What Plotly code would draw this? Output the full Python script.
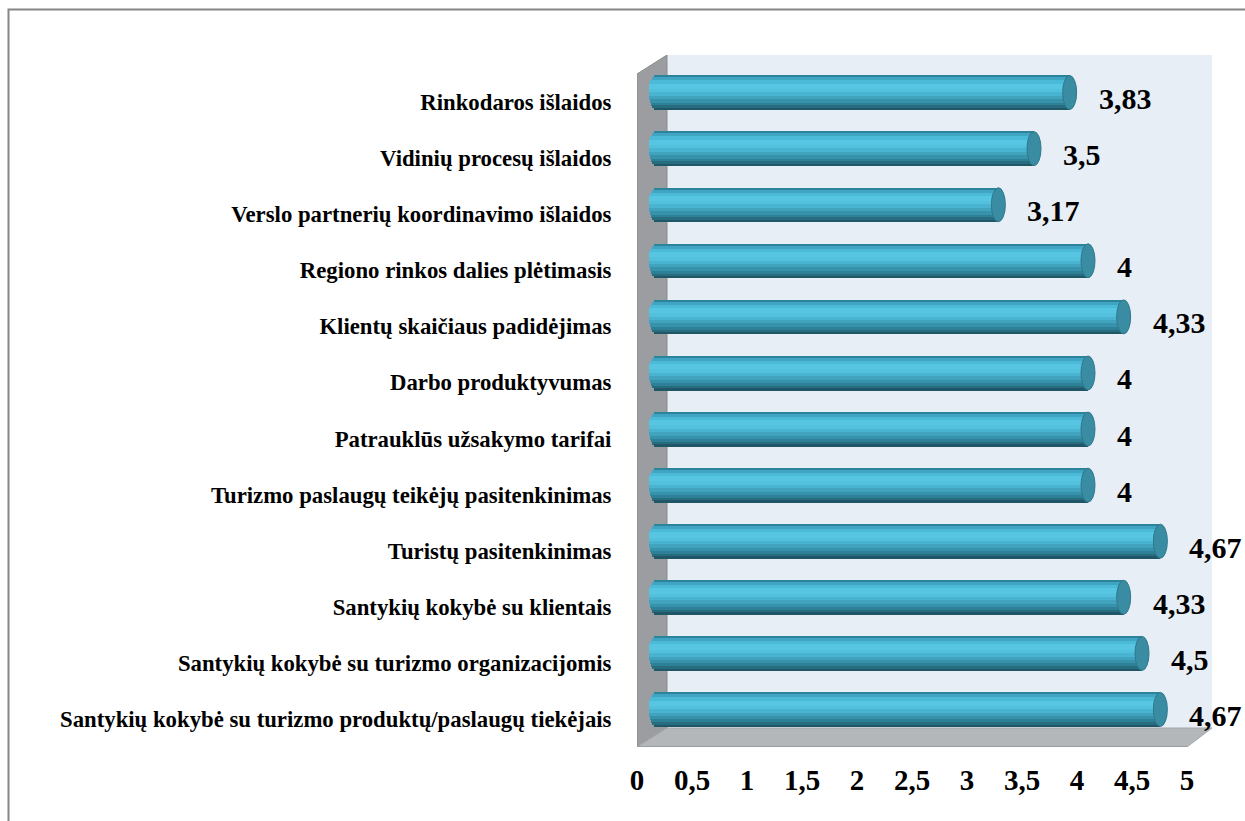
import numpy as np
import plotly.graph_objects as go

# ---- data -------------------------------------------------------------
categories = [
    "Santykių kokybė su turizmo produktų/paslaugų tiekėjais",
    "Santykių kokybė su turizmo organizacijomis",
    "Santykių kokybė su klientais",
    "Turistų pasitenkinimas",
    "Turizmo paslaugų teikėjų pasitenkinimas",
    "Patrauklūs užsakymo tarifai",
    "Darbo produktyvumas",
    "Klientų skaičiaus padidėjimas",
    "Regiono rinkos dalies plėtimasis",
    "Verslo partnerių koordinavimo išlaidos",
    "Vidinių procesų išlaidos",
    "Rinkodaros išlaidos",
]
values = [4.67, 4.5, 4.33, 4.67, 4, 4, 4, 4.33, 4, 3.17, 3.5, 3.83]
value_labels = ["4,67", "4,5", "4,33", "4,67", "4", "4", "4", "4,33", "4", "3,17", "3,5", "3,83"]
x_ticks = [0, 0.5, 1, 1.5, 2, 2.5, 3, 3.5, 4, 4.5, 5]
x_tick_labels = ["0", "0,5", "1", "1,5", "2", "2,5", "3", "3,5", "4", "4,5", "5"]

# ---- layout geometry (pixels) -----------------------------------------
W, H = 1245, 821
L, R, T, B = 637, 33, 55, 74
plot_w, plot_h = W - L - R, H - T - B
px_per_x = 110.0                      # front plane scale
x_max = plot_w / px_per_x
n = len(categories)
slot = (plot_h - 19) / n              # front plane category slot height
y_max = n - 0.5 + 19 / slot
depth_x = 30 / px_per_x               # offset of the back wall
depth_y = 19 / slot

# mid-depth plane used by the cylinders
mid_origin = 656 - L
mid_scale = 108.0
x2_range = [-mid_origin / mid_scale, (plot_w - mid_origin) / mid_scale]
lift = 9.5 / slot
y2_range = [-0.5 - lift, y_max - lift]

serif = "Liberation Serif"
fig = go.Figure()

# ---- cylinder bodies: horizontal bands give the round shading ----------
bands = [
    (0.00, 0.06, "#2c849c"),
    (0.06, 0.15, "#3fa5c2"),
    (0.15, 0.25, "#4bbad8"),
    (0.25, 0.40, "#56c6e3"),
    (0.40, 0.50, "#52c1de"),
    (0.50, 0.60, "#4ab4d0"),
    (0.60, 0.70, "#41a3be"),
    (0.70, 0.80, "#3792ab"),
    (0.80, 0.88, "#2e8097"),
    (0.88, 0.95, "#276c7f"),
    (0.95, 1.00, "#1f5767"),
]
thick = 34 / slot
radius = thick / 2
end_hw = 7 / mid_scale
pos = np.arange(n)
vals = np.array(values)
for t0, t1, col in bands:
    mid_t = (t0 + t1) / 2
    off = radius - mid_t * thick
    u = min(abs(off) / radius, 1.0)
    ext = end_hw * np.sqrt(1 - u * u)
    fig.add_trace(go.Bar(
        y=pos + off, x=vals + ext, base=[-ext] * n,
        width=(t1 - t0) * thick * 1.15, orientation="h",
        marker=dict(color=col, line=dict(width=0)),
        xaxis="x2", yaxis="y2", hoverinfo="skip", showlegend=False,
    ))

# ---- 3D walls ----------------------------------------------------------
shapes = []
shapes.append(dict(type="rect", xref="x", yref="y", layer="below",
                   x0=depth_x, x1=x_max, y0=-0.5 + depth_y, y1=y_max,
                   fillcolor="#e8eef5", line=dict(width=0)))
shapes.append(dict(type="path", xref="x", yref="y", layer="below",
                   path=f"M0,-0.5 L0,{n-0.5} L{depth_x},{y_max} L{depth_x},{-0.5+depth_y} Z",
                   fillcolor="#9c9da0", line=dict(color="#8a8b8e", width=1)))
shapes.append(dict(type="path", xref="x", yref="y", layer="below",
                   path=f"M0,-0.5 L5,-0.5 L{x_max},{-0.5+depth_y} L{depth_x},{-0.5+depth_y} Z",
                   fillcolor="#b4b7ba", line=dict(color="#a6a9ac", width=1)))
shapes.append(dict(type="line", xref="x", yref="y", layer="below",
                   x0=0, x1=5, y0=-0.5, y1=-0.5,
                   line=dict(color="#9a9c9e", width=2)))

# cylinder end caps
for k, v in enumerate(values):
    shapes.append(dict(type="circle", xref="x2", yref="y2", layer="above",
                       x0=v - end_hw, x1=v + end_hw, y0=k - radius, y1=k + radius,
                       fillcolor="#3a8ca3", line=dict(color="#2e788c", width=1)))

# outer frame
def px_x(p):
    return (p - L) / plot_w

def px_y(p):
    return (H - B - p) / plot_h

shapes.append(dict(type="path", xref="paper", yref="paper", layer="above",
                   path=f"M{px_x(8.5)},{px_y(821)} L{px_x(8.5)},{px_y(9.5)} L{px_x(1245)},{px_y(9.5)}",
                   line=dict(color="#868686", width=2)))

# ---- value labels ------------------------------------------------------
annotations = []
for k, (v, lab) in enumerate(zip(values, value_labels)):
    annotations.append(dict(x=v, y=k, xref="x2", yref="y2", text=lab,
                            showarrow=False, xanchor="left", yanchor="middle",
                            xshift=27, yshift=-6,
                            font=dict(family=serif, size=30, color="#000000", weight="bold")))

fig.update_layout(
    width=W, height=H,
    margin=dict(l=L, r=R, t=T, b=B),
    paper_bgcolor="#ffffff", plot_bgcolor="#ffffff",
    barmode="overlay", bargap=0,
    shapes=shapes, annotations=annotations,
    xaxis=dict(range=[0, x_max], tickvals=x_ticks, ticktext=x_tick_labels,
               showgrid=False, zeroline=False, showline=False,
               ticks="outside", ticklen=7, tickcolor="rgba(0,0,0,0)",
               tickfont=dict(family=serif, size=29, color="#000000", weight="bold"),
               fixedrange=True),
    xaxis2=dict(range=x2_range, overlaying="x", visible=False, fixedrange=True),
    yaxis=dict(range=[-0.5, y_max], tickvals=list(range(n)), ticktext=categories,
               showgrid=False, zeroline=False, showline=False,
               ticks="outside", ticklen=20, tickcolor="rgba(0,0,0,0)",
               tickfont=dict(family=serif, size=22.75, color="#000000", weight="bold"),
               fixedrange=True),
    yaxis2=dict(range=y2_range, overlaying="y", visible=False, fixedrange=True),
    showlegend=False,
)

fig.write_html("out.html")
